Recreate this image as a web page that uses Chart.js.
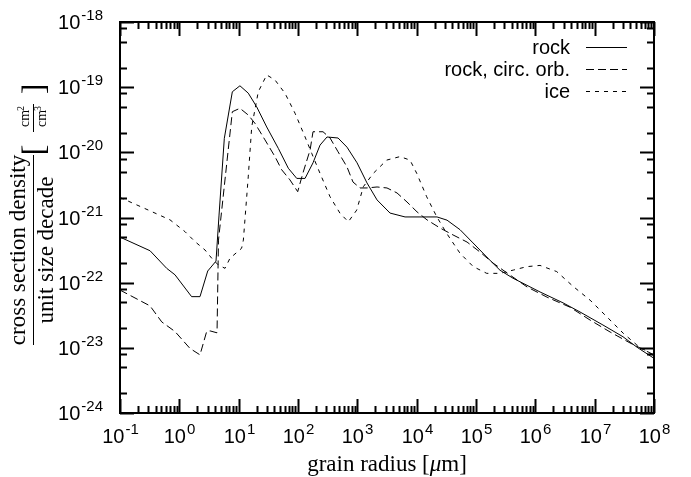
<!DOCTYPE html>
<html>
<head>
<meta charset="utf-8">
<script src="https://cdn.jsdelivr.net/npm/chart.js@4"></script>
<style>
  body { margin: 0; background: #fff; }
  canvas { display: block; }
</style>
</head>
<body>
<canvas id="chart" width="691" height="477"></canvas>
<script>
// grain radius in micrometres, cross section density per unit size decade in cm^2/cm^3
const rockRadius = [0.1, 0.321, 0.612, 0.845, 1.61, 2.23, 3.01, 4.15, 4.67, 5.73, 7.82, 10.5, 14.5, 20.1, 29.7, 46.6, 68.7, 95.3, 131.5, 179, 235, 308, 473, 670, 989, 1455, 2148, 3556, 6368, 11376, 22029, 32509, 53827, 89125, 153462, 254097, 420727, 1.2e6, 2.93e6, 5.66e6, 1.38e7, 3.0e7, 5.18e7, 1e8];
const rockDensity = [5.0e-22, 3.09e-22, 1.66e-22, 1.32e-22, 6.1e-23, 6.1e-23, 1.51e-22, 2.14e-22, 1.09e-21, 1.64e-20, 8.5e-20, 1.05e-19, 8.1e-20, 5.0e-20, 2.45e-20, 1.15e-20, 5.7e-21, 3.98e-21, 3.98e-21, 6.9e-21, 1.29e-20, 1.72e-20, 1.66e-20, 1.20e-20, 6.9e-21, 3.39e-21, 1.86e-21, 1.17e-21, 1.02e-21, 1.02e-21, 1.02e-21, 9.1e-22, 6.5e-22, 4.07e-22, 2.45e-22, 1.55e-22, 1.17e-22, 7.2e-23, 4.9e-23, 3.55e-23, 2.24e-23, 1.48e-23, 1.02e-23, 6.9e-24];

const circRadius = [0.1, 0.321, 0.505, 0.845, 1.51, 2.23, 2.89, 3.29, 4.32, 4.57, 7.82, 10.5, 14.5, 18.8, 27.8, 40.9, 53.1, 73.3, 98.9, 121, 160, 179, 264, 347, 473, 670, 845, 1109, 1455, 2148, 3162, 4667, 6871, 10139, 14928, 24774, 41020, 70632, 116950, 193642, 333426, 724436, 1.57e6, 3.85e6, 8.36e6, 1.82e7, 3.94e7, 1e8];
const circDensity = [7.7e-23, 4.4e-23, 2.5e-23, 1.78e-23, 9.8e-24, 7.8e-24, 1.78e-23, 1.82e-23, 1.70e-23, 4.5e-22, 4.2e-20, 4.74e-20, 3.74e-20, 2.79e-20, 1.55e-20, 8.6e-21, 5.4e-21, 3.77e-21, 2.49e-21, 4.8e-21, 1.09e-20, 2.07e-20, 2.07e-20, 1.66e-20, 1.02e-20, 5.96e-21, 3.5e-21, 2.84e-21, 2.84e-21, 2.94e-21, 2.84e-21, 2.38e-21, 1.73e-21, 1.22e-21, 9.2e-22, 6.9e-22, 5.4e-22, 4.2e-22, 2.95e-22, 2.0e-22, 1.41e-22, 8.6e-23, 6.0e-23, 4.2e-23, 2.67e-23, 1.75e-23, 1.19e-23, 7.8e-24];

const iceRadius = [0.1, 0.3, 0.697, 1.25, 1.84, 2.71, 3.52, 4.54, 5.89, 7.14, 11.2, 12.0, 14.5, 16.6, 21.4, 29.7, 40.9, 60.4, 89.1, 131, 170, 235, 347, 511, 705, 977, 1262, 1858, 3126, 5236, 7727, 10023, 14757, 21777, 32063, 53827, 90157, 151705, 254097, 425598, 716143, 1.2e6, 2.29e6, 4.38e6, 8.36e6, 1.6e7, 3.04e7, 5.12e7, 1e8];
const iceDensity = [2.03e-21, 1.30e-21, 9.2e-22, 6.05e-22, 4.26e-22, 3.17e-22, 2.37e-22, 1.87e-22, 1.66e-22, 2.37e-22, 3.37e-22, 4.5e-22, 4.2e-21, 2.47e-20, 8.5e-20, 1.54e-19, 1.29e-19, 8.05e-20, 3.98e-20, 1.74e-20, 9.7e-21, 4.76e-21, 2.08e-21, 1.16e-21, 8.6e-22, 1.30e-21, 2.97e-21, 4.76e-21, 7.6e-21, 8.6e-21, 7.6e-21, 4.76e-21, 2.08e-21, 1.03e-21, 5.7e-22, 2.82e-22, 1.76e-22, 1.39e-22, 1.39e-22, 1.56e-22, 1.76e-22, 1.84e-22, 1.48e-22, 8.7e-23, 5.4e-23, 3.0e-23, 1.67e-23, 1.11e-23, 7.5e-24];

const seriesNames = ['rock', 'rock, circ. orb.', 'ice'];
const xTickExponents = [-1, 0, 1, 2, 3, 4, 5, 6, 7, 8];
const yTickExponents = [-24, -23, -22, -21, -20, -19, -18];
const yMinorMultipliers = [2, 5, 8];

function toPoints(xs, ys) {
    return xs.map((x, i) => ({ x: x, y: ys[i] }));
}

function lineSet(label, xs, ys, dash) {
    return {
        label: label,
        data: toPoints(xs, ys),
        borderColor: '#000',
        borderWidth: 1,
        borderDash: dash,
        pointRadius: 0,
        tension: 0,
        fill: false
    };
}

// draws text rotated by -90 degrees, (sx, sy) is the anchor on screen
function rotText(ctx, str, sx, sy, font, align) {
    ctx.save();
    ctx.translate(sx, sy);
    ctx.rotate(-Math.PI / 2);
    ctx.font = font;
    ctx.textAlign = align || 'center';
    ctx.textBaseline = 'alphabetic';
    ctx.fillText(str, 0, 0);
    ctx.restore();
}

function powerLabel(ctx, exp, x, baseline, anchor) {
    const base = '10', sup = String(exp);
    ctx.font = '20px "Liberation Sans"';
    const w1 = ctx.measureText(base).width;
    ctx.font = '15px "Liberation Sans"';
    const w2 = ctx.measureText(sup).width;
    let start = anchor === 'right' ? x - w1 - w2 - 1 : x - (w1 + w2 + 1) / 2;
    ctx.textAlign = 'left';
    ctx.textBaseline = 'alphabetic';
    ctx.font = '20px "Liberation Sans"';
    ctx.fillText(base, start, baseline);
    ctx.font = '15px "Liberation Sans"';
    ctx.fillText(sup, start + w1 + 1, baseline - 9);
}

const framePlugin = {
    id: 'gnuplotFrame',
    afterDraw(chart) {
        const ctx = chart.ctx;
        const area = chart.chartArea;
        const xs = chart.scales.x, ys = chart.scales.y;
        ctx.save();
        ctx.fillStyle = '#000';
        ctx.strokeStyle = '#000';

        // frame
        ctx.lineWidth = 2;
        ctx.strokeRect(area.left, area.top, area.right - area.left, area.bottom - area.top);

        // x ticks (bottom and top, pointing inward)
        xTickExponents.forEach((e, i) => {
            const px = Math.round(xs.getPixelForValue(Math.pow(10, e))) + 0.5;
            ctx.beginPath();
            ctx.moveTo(px, area.bottom); ctx.lineTo(px, area.bottom - 14);
            ctx.moveTo(px, area.top); ctx.lineTo(px, area.top + 14);
            ctx.stroke();
            if (i < xTickExponents.length - 1) {
                for (let m = 2; m <= 9; m++) {
                    const mx = Math.round(xs.getPixelForValue(m * Math.pow(10, e))) + 0.5;
                    ctx.beginPath();
                    ctx.moveTo(mx, area.bottom); ctx.lineTo(mx, area.bottom - 7);
                    ctx.moveTo(mx, area.top); ctx.lineTo(mx, area.top + 7);
                    ctx.stroke();
                }
            }
            powerLabel(ctx, e, px, 443, 'center');
        });

        // y ticks (left and right, pointing inward)
        yTickExponents.forEach((e, i) => {
            const py = Math.round(ys.getPixelForValue(Math.pow(10, e))) + 0.5;
            ctx.beginPath();
            ctx.moveTo(area.left, py); ctx.lineTo(area.left + 14, py);
            ctx.moveTo(area.right, py); ctx.lineTo(area.right - 14, py);
            ctx.stroke();
            if (i < yTickExponents.length - 1) {
                yMinorMultipliers.forEach(m => {
                    const my = Math.round(ys.getPixelForValue(m * Math.pow(10, e))) + 0.5;
                    ctx.beginPath();
                    ctx.moveTo(area.left, my); ctx.lineTo(area.left + 7, my);
                    ctx.moveTo(area.right, my); ctx.lineTo(area.right - 7, my);
                    ctx.stroke();
                });
            }
            powerLabel(ctx, e, 103, py + 6, 'right');
        });

        // x axis title
        ctx.textAlign = 'left';
        ctx.textBaseline = 'alphabetic';
        const tParts = [['grain radius [', '23px "Liberation Serif"'], ['\u03bc', 'italic 23px "Liberation Serif"'], ['m]', '23px "Liberation Serif"']];
        let tw = 0;
        tParts.forEach(p => { ctx.font = p[1]; tw += ctx.measureText(p[0]).width; });
        let tx = (area.left + area.right) / 2 - tw / 2;
        tParts.forEach(p => { ctx.font = p[1]; ctx.fillText(p[0], tx, 471); tx += ctx.measureText(p[0]).width; });

        // y axis title: fraction plus unit in brackets
        const serif = '"Liberation Serif"';
        rotText(ctx, 'cross section density', 25, 250, '23px ' + serif);
        rotText(ctx, 'unit size decade', 53, 250, '23px ' + serif);
        ctx.lineWidth = 1;
        ctx.beginPath();
        ctx.moveTo(33.5, 155); ctx.lineTo(33.5, 345);
        ctx.stroke();
        rotText(ctx, '[', 44, 150, '32px ' + serif);
        rotText(ctx, ']', 44, 89, '32px ' + serif);
        rotText(ctx, 'cm', 29, 127, '14px ' + serif, 'left');
        rotText(ctx, '2', 24, 111, '10px ' + serif, 'left');
        rotText(ctx, 'cm', 46, 127, '14px ' + serif, 'left');
        rotText(ctx, '3', 41, 111, '10px ' + serif, 'left');
        ctx.beginPath();
        ctx.moveTo(33.5, 104); ctx.lineTo(33.5, 132);
        ctx.stroke();

        // legend
        const rows = [47, 69, 91];
        chart.data.datasets.forEach((ds, i) => {
            ctx.font = '20px "Liberation Sans"';
            ctx.textAlign = 'right';
            ctx.textBaseline = 'alphabetic';
            ctx.fillText(ds.label, 570, rows[i] + 7);
            ctx.lineWidth = 1;
            ctx.setLineDash(ds.borderDash || []);
            ctx.beginPath();
            ctx.moveTo(586, rows[i] + 0.5);
            ctx.lineTo(627, rows[i] + 0.5);
            ctx.stroke();
            ctx.setLineDash([]);
        });
        ctx.restore();
    }
};

new Chart(document.getElementById('chart'), {
    type: 'line',
    data: {
        datasets: [
            lineSet(seriesNames[0], rockRadius, rockDensity, []),
            lineSet(seriesNames[1], circRadius, circDensity, [8, 4]),
            lineSet(seriesNames[2], iceRadius, iceDensity, [4, 5])
        ]
    },
    options: {
        responsive: false,
        animation: false,
        devicePixelRatio: 1,
        layout: { padding: { left: 120, top: 22, right: 37, bottom: 64 } },
        plugins: { legend: { display: false }, tooltip: { enabled: false } },
        scales: {
            x: { type: 'logarithmic', min: 0.1, max: 1e8, display: false },
            y: { type: 'logarithmic', min: 1e-24, max: 1e-18, display: false }
        }
    },
    plugins: [framePlugin]
});
</script>
</body>
</html>
